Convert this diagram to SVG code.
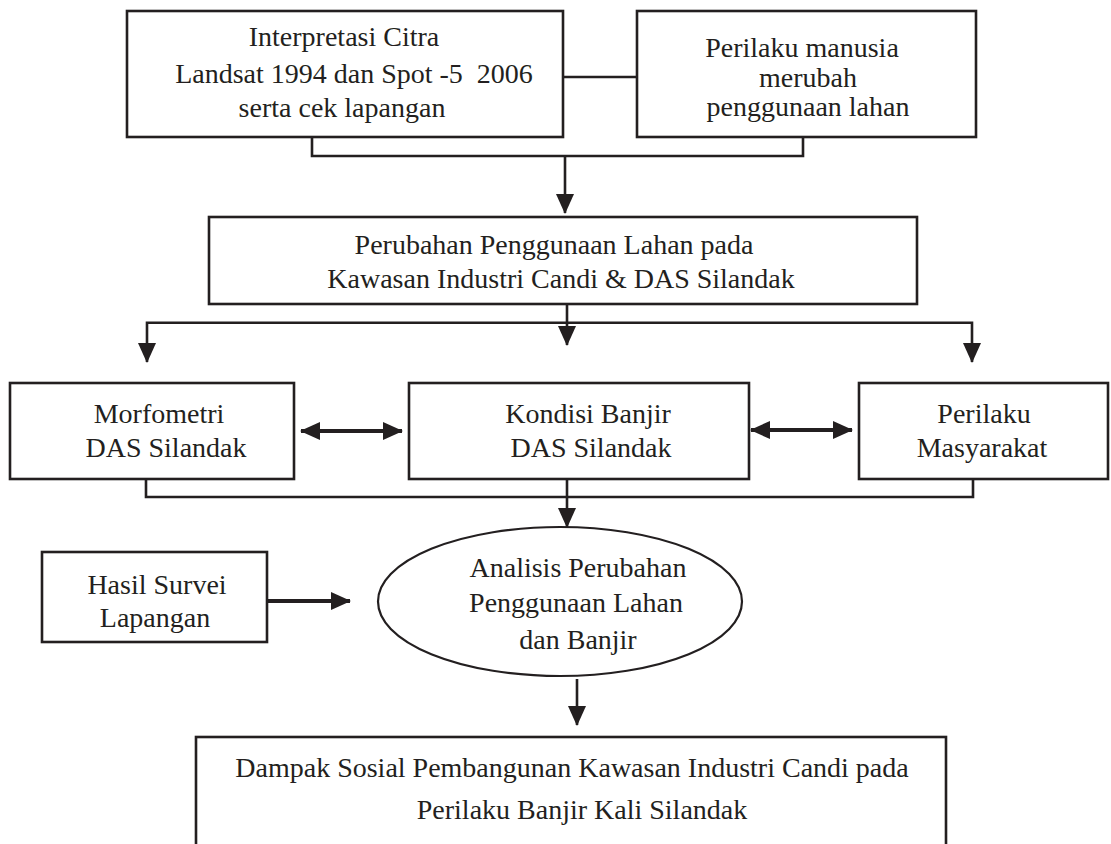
<svg xmlns="http://www.w3.org/2000/svg" width="1111" height="844" viewBox="0 0 1111 844">
<style>
.box{fill:#fff;stroke:#231f20;stroke-width:2.6}
.t{font-family:"Liberation Serif","Times New Roman",serif;font-size:28px;fill:#231f20;text-anchor:middle}
.c{fill:none;stroke:#231f20;stroke-width:2.6}
.thick{stroke-width:4}
</style>
<defs>
<marker id="ah" markerUnits="userSpaceOnUse" markerWidth="20" markerHeight="18" refX="19" refY="9" orient="auto-start-reverse" viewBox="0 0 20 18"><path d="M0,0 L20,9 L0,18 Z" fill="#231f20"/></marker>
</defs>
<rect x="0" y="0" width="1111" height="844" fill="#fff"/>
<g id="connectors">
<line class="c" x1="563" y1="77" x2="637" y2="77"/>
<path class="c" d="M312,137 V156 H803 V137"/>
<line class="c" x1="565" y1="156" x2="565" y2="213" marker-end="url(#ah)"/>
<line class="c" x1="567" y1="304" x2="567" y2="345" marker-end="url(#ah)"/>
<path class="c" d="M147,362 V322.7 H972 V362" marker-start="url(#ah)" marker-end="url(#ah)"/>
<line class="c thick" x1="301" y1="431" x2="402" y2="431" marker-start="url(#ah)" marker-end="url(#ah)"/>
<line class="c thick" x1="751" y1="430" x2="852" y2="430" marker-start="url(#ah)" marker-end="url(#ah)"/>
<path class="c" d="M146,479 V497 H973 V479"/>
<line class="c" x1="567" y1="479" x2="567" y2="527" marker-end="url(#ah)"/>
<line class="c thick" x1="267" y1="601" x2="350" y2="601" marker-end="url(#ah)"/>
<line class="c" x1="577" y1="679" x2="577" y2="725" marker-end="url(#ah)"/>
</g>
<g id="n1">
<rect class="box" x="127" y="11" width="436" height="126"/>
<text class="t" x="344" y="46">Interpretasi Citra</text>
<text class="t" x="354" y="83" xml:space="preserve">Landsat 1994 dan Spot -5  2006</text>
<text class="t" x="342" y="117">serta cek lapangan</text>
</g>
<g id="n2">
<rect class="box" x="637" y="11" width="339" height="126"/>
<text class="t" x="802" y="57">Perilaku manusia</text>
<text class="t" x="808" y="87">merubah</text>
<text class="t" x="808" y="116">penggunaan lahan</text>
</g>
<g id="n3">
<rect class="box" x="209" y="217" width="708" height="87"/>
<text class="t" x="554" y="254">Perubahan Penggunaan Lahan pada</text>
<text class="t" x="561" y="288">Kawasan Industri Candi &amp; DAS Silandak</text>
</g>
<g id="n4">
<rect class="box" x="10" y="383" width="284" height="96"/>
<text class="t" x="159" y="423">Morfometri</text>
<text class="t" x="166" y="457">DAS Silandak</text>
</g>
<g id="n5">
<rect class="box" x="409" y="383" width="340" height="96"/>
<text class="t" x="588" y="423">Kondisi Banjir</text>
<text class="t" x="591" y="457">DAS Silandak</text>
</g>
<g id="n6">
<rect class="box" x="859" y="383" width="249" height="96"/>
<text class="t" x="984" y="423">Perilaku</text>
<text class="t" x="982" y="457">Masyarakat</text>
</g>
<g id="n7">
<rect class="box" x="42" y="552" width="225" height="90"/>
<text class="t" x="157" y="594">Hasil Survei</text>
<text class="t" x="155" y="627">Lapangan</text>
</g>
<g id="n8">
<ellipse class="box" cx="560" cy="601.5" rx="182" ry="74.5" style="stroke-width:2.2"/>
<text class="t" x="578" y="577">Analisis Perubahan</text>
<text class="t" x="576" y="612">Penggunaan Lahan</text>
<text class="t" x="578" y="649">dan Banjir</text>
</g>
<g id="n9">
<rect class="box" x="196" y="737" width="750" height="160"/>
<text class="t" x="572" y="777">Dampak Sosial Pembangunan Kawasan Industri Candi pada</text>
<text class="t" x="582" y="819">Perilaku Banjir Kali Silandak</text>
</g>
</svg>
